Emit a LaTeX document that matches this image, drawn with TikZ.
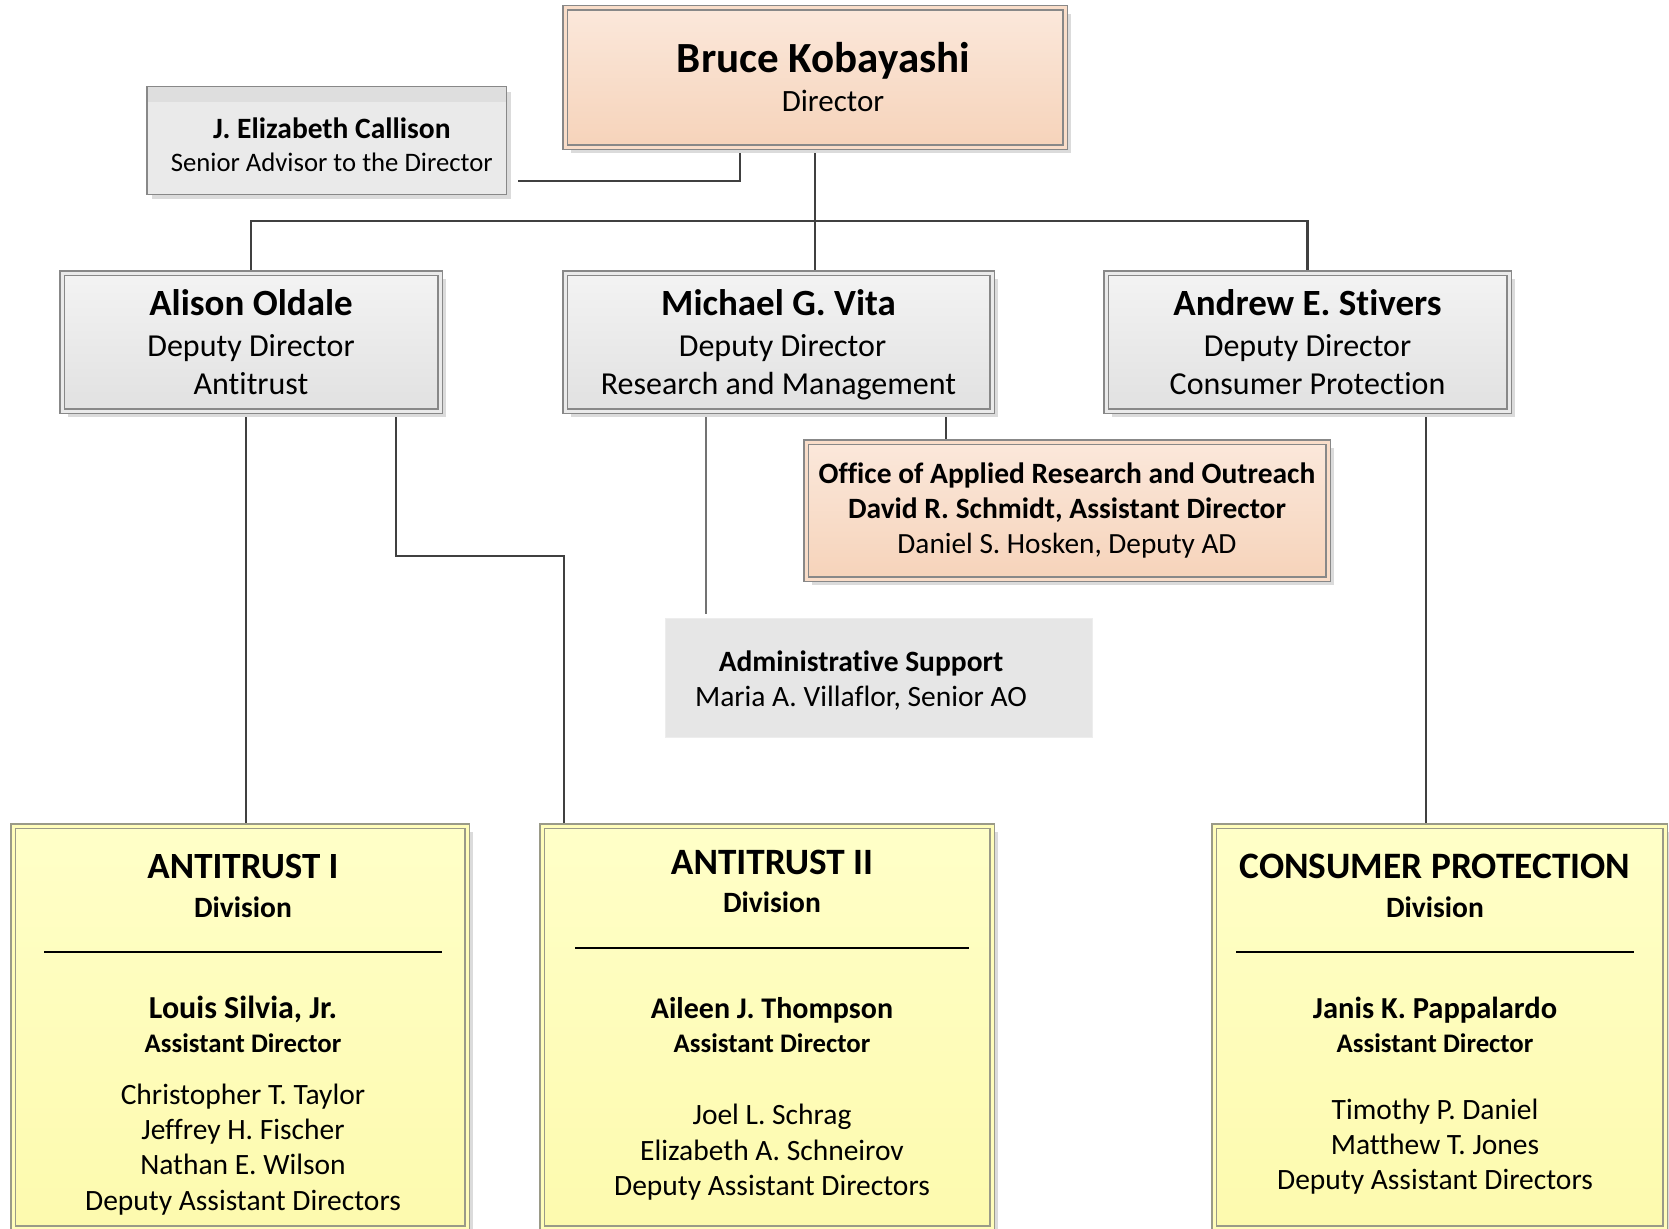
\documentclass[tikz,border=0pt]{standalone}
\usepackage{fontspec}
\setmainfont{Carlito}[Ligatures=NoCommon]
\usetikzlibrary{positioning,shadows,backgrounds}

\definecolor{peachtop}{HTML}{FBE8DB}
\definecolor{peachbot}{HTML}{F6D3BA}
\definecolor{peachmid}{HTML}{F9DDC9}
\definecolor{greytop}{HTML}{F3F3F3}
\definecolor{greybot}{HTML}{E1E1E1}
\definecolor{greymid}{HTML}{EAEAEA}
\definecolor{lemontop}{HTML}{FFFFC8}
\definecolor{lemonbot}{HTML}{FDFAAE}
\definecolor{lemonmid}{HTML}{FFFDBA}
\definecolor{rimgrey}{HTML}{888888}
\definecolor{rimolive}{HTML}{9A9A88}
\definecolor{wirecol}{HTML}{404040}
\definecolor{admgrey}{HTML}{E6E6E6}

\newcommand{\boldat}[1]{\bfseries\fontsize{#1}{#1}\selectfont}

\tikzset{
  box/.style={rectangle, inner sep=0pt, outer sep=0pt, align=center,
    line width=1.5pt, double distance=3pt,
    general shadow={fill=black!14, shadow xshift=6pt, shadow yshift=-6pt}},
  peachbox/.style={box, draw=rimgrey, double=peachmid, top color=peachtop, bottom color=peachbot},
  greybox/.style={box, draw=rimgrey, double=greymid, top color=greytop, bottom color=greybot},
  lemonbox/.style={box, draw=rimolive, double=lemonmid, top color=lemontop, bottom color=lemonbot},
  wire/.style={draw=wirecol, line width=2.4pt},
  thinwire/.style={draw=black!55, line width=1.4pt},
  textblock/.style={inner sep=0pt, align=center, font=\fontsize{29.5}{35}\selectfont}
}

\begin{document}
\begin{tikzpicture}[x=1pt,y=-1pt]
\useasboundingbox (0,0) rectangle (1669,1228);

\node[peachbox, minimum width=500pt, minimum height=139pt, font=\fontsize{31}{39}\selectfont] (dir) at (815,77.5)
  {\hspace*{17pt}{\boldat{43}Bruce Kobayashi}\\\hspace*{36pt}Director};
\node[rectangle, draw=rimgrey, line width=1.5pt, fill=greymid, inner sep=0pt, align=center,
  minimum width=359.5pt, minimum height=107.5pt,
  general shadow={fill=black!14, shadow xshift=5pt, shadow yshift=-5pt},
  path picture={\fill[black!13] (path picture bounding box.north west) rectangle ([yshift=-15pt]path picture bounding box.north east);},
  font=\fontsize{26.7}{33.5}\selectfont] (cal) at (326.5,140.5)
  {\hspace*{10.6pt}\rule{0pt}{29pt}{\boldat{29.5}J. Elizabeth Callison}\\\hspace*{10.6pt}Senior Advisor to the Director};

\node[greybox, minimum width=378pt, minimum height=138pt, font=\fontsize{32}{38}\selectfont] (old) at (251,342)
  {{\boldat{37}Alison Oldale}\\[2.5pt]Deputy Director\\Antitrust};
\node[greybox, minimum width=427pt, minimum height=138pt, font=\fontsize{32}{38}\selectfont] (vita) at (778.5,342)
  {{\boldat{37}Michael G. Vita}\\[2.5pt]\hspace*{8pt}Deputy Director\\\raisebox{0pt}[\height][0pt]{Research and Management}};
\node[greybox, minimum width=403pt, minimum height=138pt, font=\fontsize{32}{38}\selectfont] (stiv) at (1307.5,342)
  {{\boldat{37}Andrew E. Stivers}\\[2.5pt]Deputy Director\\Consumer Protection};

\node[peachbox, minimum width=522pt, minimum height=137pt, font=\fontsize{29.3}{35}\selectfont] (oaro) at (1067,510.5)
  {{\boldat{29.5}Office of Applied Research and Outreach}\\{\boldat{29.5}David R. Schmidt, Assistant Director}\\Daniel S. Hosken, Deputy AD};

\node[rectangle, fill=admgrey, draw=black!7, line width=1pt, minimum width=427pt, minimum height=119pt] (adm) at (878.5,677.5) {};
\node[textblock, anchor=north] (admtxt) at ([xshift=-17.5pt,yshift=-33pt]adm.north)
  {\textbf{Administrative Support}\\Maria A. Villaflor, Senior AO};

\node[lemonbox, minimum width=454pt, minimum height=402pt] (at1) at (240.4,1027) {};
\node[textblock, anchor=north] (at1txt) at ([xshift=2.6pt,yshift=-27.6pt]at1.north)
  {{\boldat{37}ANTITRUST I}\\[4pt]\textbf{Division}\\[1pt]\rule{398pt}{2pt}\\[30pt]{\boldat{32}Louis Silvia, Jr.}\\[-1pt]{\boldat{26.8}Assistant Director}\\[17pt]Christopher T. Taylor\\Jeffrey H. Fischer\\Nathan E. Wilson\\[1pt]Deputy Assistant Directors};
\node[lemonbox, minimum width=450pt, minimum height=402pt] (at2) at (767,1027) {};
\node[textblock, anchor=north] (at2txt) at ([xshift=5pt,yshift=-23.6pt]at2.north)
  {{\boldat{37.2}ANTITRUST II}\\[3pt]\textbf{Division}\\[2pt]\rule{394pt}{2pt}\\[34pt]{\boldat{30}Aileen J. Thompson}\\[-0.5pt]{\boldat{26.8}Assistant Director}\\[36.5pt]Joel L. Schrag\\[1pt]Elizabeth A. Schneirov\\Deputy Assistant Directors};
\node[lemonbox, minimum width=451pt, minimum height=402pt] (cons) at (1439.5,1027) {};
\node[textblock, anchor=north] (constxt) at ([xshift=-4.5pt,yshift=-27.6pt]cons.north)
  {{\boldat{37.3}CONSUMER PROTECTION}\\[4pt]\textbf{Division}\\[1pt]\rule{398pt}{2pt}\\[30pt]{\boldat{30.5}Janis K. Pappalardo}\\[-1pt]{\boldat{26.8}Assistant Director}\\[32pt]Timothy P. Daniel\\Matthew T. Jones\\Deputy Assistant Directors};

\begin{scope}[on background layer]
\coordinate (calr) at (518,181);
\draw[wire] (calr) -| ([xshift=-75pt]dir.south);
\draw[wire] (dir.south) -- ++(0,74) coordinate (bar);
\draw[wire] (old.north) |- (bar) -| (stiv.north);
\draw[wire] (bar) -- (bar |- vita.north);
\draw[wire] ([xshift=167.5pt]vita.south) -- ([xshift=-121pt]oaro.north);
\draw[thinwire] ([xshift=-72.5pt]vita.south) -- ([xshift=-172.5pt,yshift=4pt]adm.north);
\draw[wire] ([xshift=-5pt]old.south) -- ([xshift=5.6pt]at1.north);
\draw[wire] ([xshift=145pt]old.south) -- ++(0,145) -| ([xshift=-203pt]at2.north);
\draw[wire] ([xshift=118.5pt]stiv.south) -- ([xshift=-13.5pt]cons.north);
\end{scope}
\end{tikzpicture}
\end{document}
